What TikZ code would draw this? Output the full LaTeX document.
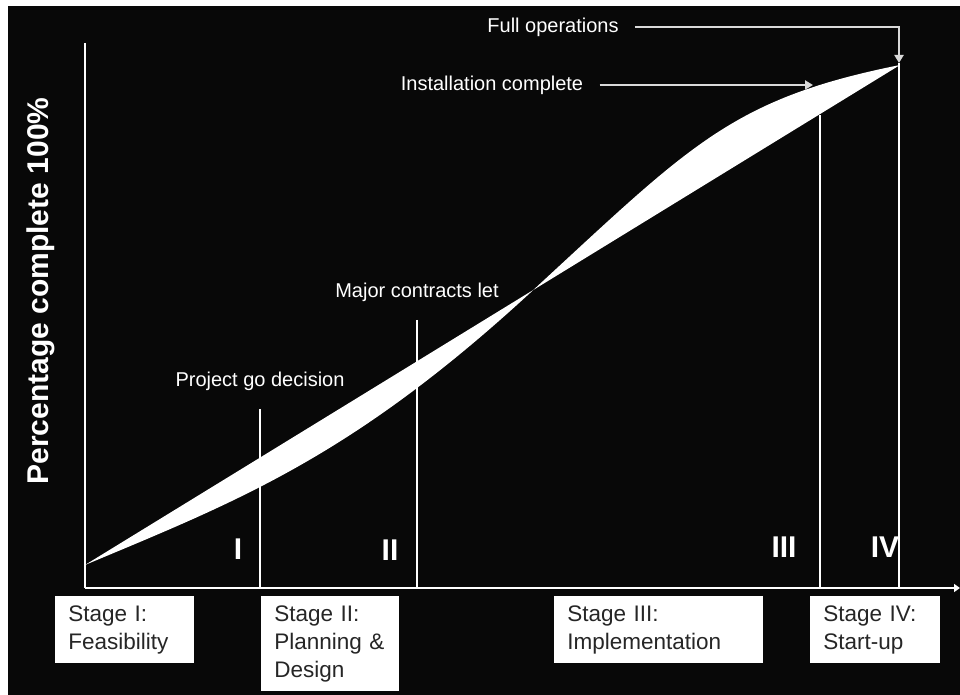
\documentclass[tikz,border=0pt]{standalone}
\usepackage{fontspec}
\setmainfont{Liberation Sans}
\usetikzlibrary{arrows.meta, positioning}
\definecolor{board}{RGB}{8,8,8}
\tikzstyle{stagebox} = [fill=white, text=black!85, anchor=north west, align=left, inner xsep=6.5pt, inner ysep=4.6pt, font=\fontsize{11.25}{14}\selectfont]
\tikzstyle{milestone} = [text=white, inner sep=8pt, font=\fontsize{10}{12}\selectfont]
\tikzstyle{numeral} = [text=white, font=\fontsize{15}{18}\selectfont\bfseries]
\tikzstyle{divider} = [white, line width=0.75pt]
\tikzstyle{pointer} = [white!85!black, line width=1pt]

\begin{document}
\begin{tikzpicture}[x=0.5pt, y=-0.5pt, >={Triangle[length=4pt,width=4.5pt]}, node distance=14pt]
  \useasboundingbox (0,0) rectangle (960,695);
  \fill[white] (0,0) rectangle (960,695);
  \fill[board] (8,6) rectangle (960,695);

  % axes
  \coordinate (origin) at (85,588);
  \coordinate (ytop) at (85,43);
  \coordinate (xend) at (960,588);
  \draw[white, line width=1pt] (ytop) -- (origin);
  \draw[white, line width=1.2pt, -{Triangle[length=3pt,width=4pt]}] (origin) -- (xend);
  \node[white, rotate=90, font=\fontsize{15}{18}\selectfont\bfseries] (ylabel) at (41,291) {Percentage complete 100\%};

  % straight plan vs s-curve
  \coordinate (start) at (85,565);
  \coordinate (turn) at (530,293);
  \coordinate (finish) at (900,65);
  \fill[white] (start) -- (finish)
    .. controls (730,99) and (690,145.8) .. (turn)
    .. controls (350,458.6) and (235,502) .. (start) -- cycle;

  % stage dividers
  \coordinate (gotop) at (260,409);
  \coordinate (gobase) at (260,588);
  \coordinate (lettop) at (417,320);
  \coordinate (letbase) at (417,588);
  \coordinate (insttop) at (820,115);
  \coordinate (instbase) at (820,588);
  \coordinate (fulltip) at (899,63);
  \coordinate (fullbase) at (899,588);
  \draw[divider] (gotop) -- (gobase);
  \draw[divider] (lettop) -- (letbase);
  \draw[divider] (insttop) -- (instbase);
  \draw[divider] (fulltip) -- (fullbase);

  % milestones
  \node[milestone, above of=gotop] (godecision) {Project go decision};
  \node[milestone, above of=lettop] (contracts) {Major contracts let};
  \node[milestone] (install) at (492,85) {Installation complete};
  \node[milestone] (fullops) at (553,27) {Full operations};
  \coordinate (installtip) at (813,85);
  \draw[pointer, ->] (install) -- (installtip);
  \draw[pointer, ->] (fullops) -| (fulltip);

  % numerals
  \node[numeral] (n1) at (238,549) {I};
  \node[numeral] (n2) at (390,550) {II};
  \node[numeral] (n3) at (784,547) {III};
  \node[numeral] (n4) at (885,547) {IV};

  % stage boxes
  \node[stagebox, text width=56.5pt] (stage1) at (55,596) {Stage I:\\Feasibility};
  \node[stagebox, text width=56pt] (stage2) at (261,596) {Stage II:\\Planning \&\\Design};
  \node[stagebox, text width=91.5pt] (stage3) at (554,596) {Stage III:\\Implementation};
  \node[stagebox, text width=52pt] (stage4) at (810,596) {Stage IV:\\Start-up};
\end{tikzpicture}
\end{document}
